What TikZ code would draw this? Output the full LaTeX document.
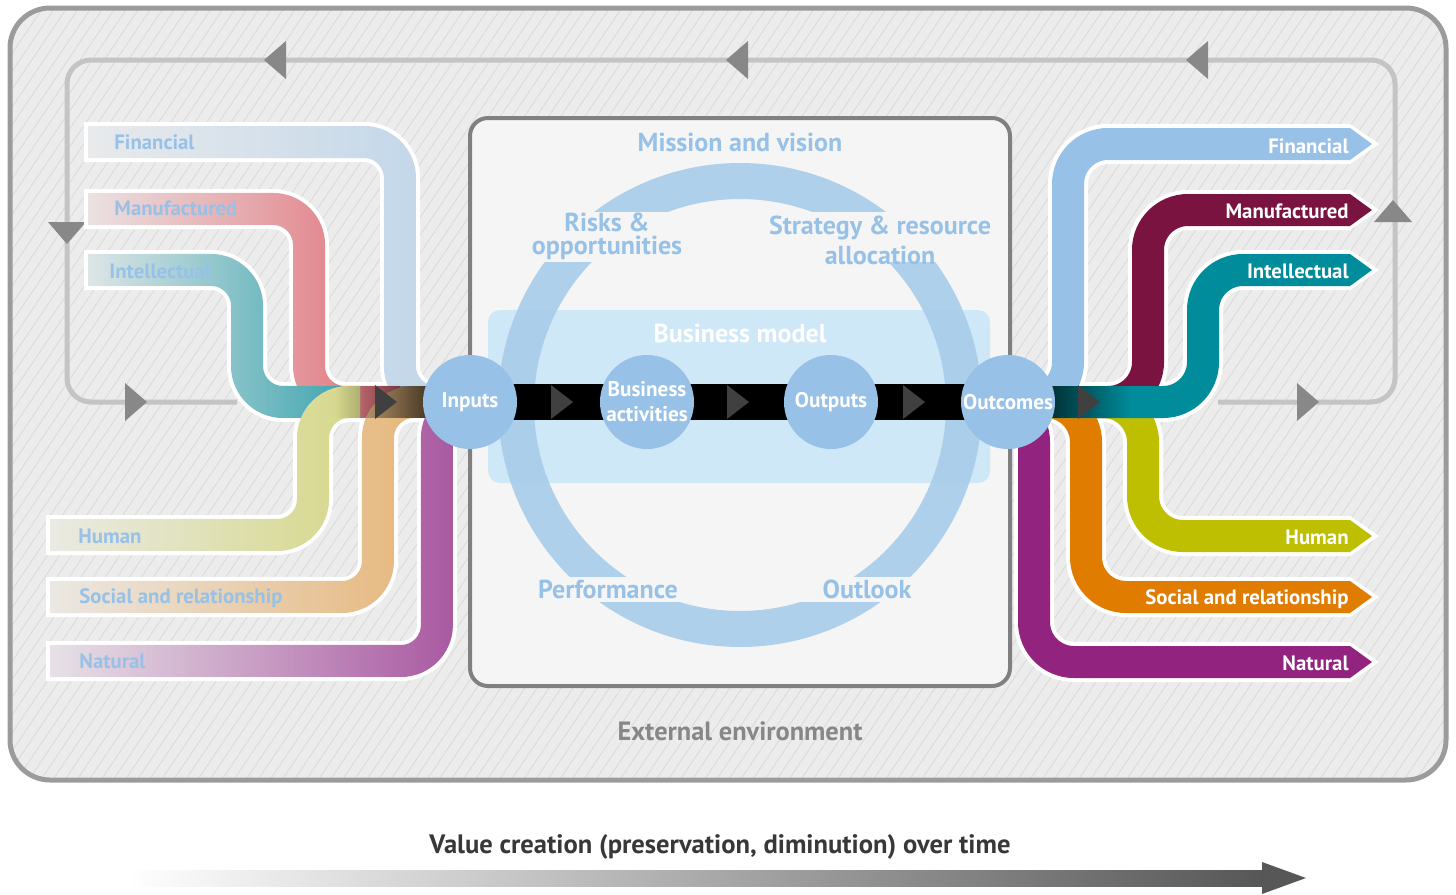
\documentclass[tikz,border=0pt]{standalone}
\usepackage{fontspec}
\setmainfont{PT Sans}
\usetikzlibrary{positioning}
\usetikzlibrary{fadings}
\usetikzlibrary{patterns.meta}

\definecolor{envfill}{HTML}{ECECEC}
\definecolor{envhatch}{HTML}{DADADA}
\definecolor{envline}{HTML}{9B9B9B}
\definecolor{loopline}{HTML}{C4C4C4}
\definecolor{loopgray}{HTML}{888888}
\definecolor{boxline}{HTML}{808080}
\definecolor{boxfill}{HTML}{F5F5F5}
\definecolor{ringblue}{HTML}{A8CCEA}
\definecolor{modelblue}{HTML}{CFE8F8}
\definecolor{stageblue}{HTML}{97C1E7}
\definecolor{flowdark}{HTML}{404040}
% capitals going in
\definecolor{finin}{HTML}{BCD4EA}
\definecolor{manin}{HTML}{E06870}
\definecolor{intin}{HTML}{3AA3AE}
\definecolor{humin}{HTML}{CFD26A}
\definecolor{socin}{HTML}{E6AE68}
\definecolor{natin}{HTML}{A44E9C}
% capitals coming out
\definecolor{finout}{HTML}{97C1E7}
\definecolor{manout}{HTML}{7B1340}
\definecolor{intout}{HTML}{008C9A}
\definecolor{humout}{HTML}{BDBF00}
\definecolor{socout}{HTML}{E07C00}
\definecolor{natout}{HTML}{92237F}

\tikzfading[name=fade in, left color=transparent!100, right color=transparent!0]
\tikzfading[name=fade out, left color=transparent!0, right color=transparent!100]
\tikzfading[name=ribbon fade, left color=transparent!97, right color=transparent!0, middle color=transparent!50]

\tikzset{
  stage/.style={circle, fill=stageblue, minimum size=47pt, inner sep=0pt,
    text=white, align=center, font=\bfseries\fontsize{10.6}{12.5}\selectfont},
  ringlabel/.style={text=stageblue, align=center, font=\bfseries\fontsize{13}{11.5}\selectfont},
  inlabel/.style={text=stageblue, anchor=west, inner sep=0pt, font=\bfseries\fontsize{10.4}{10}\selectfont},
  outlabel/.style={text=white, anchor=east, inner sep=0pt, font=\bfseries\fontsize{10.4}{10}\selectfont},
  inframe/.style={white, line width=20pt, rounded corners=18pt},
  inbase/.style={envfill, line width=16pt, rounded corners=18pt},
  inflow/.style={#1, line width=16pt, rounded corners=18pt, path fading=ribbon fade},
  outframe/.style={white, line width=20pt, rounded corners=20pt},
  outflow/.style={#1, line width=16pt, rounded corners=20pt},
  looptip/.pic={\fill[loopgray] (-11,-19) -- (11,0) -- (-11,19) -- cycle;},
  flowtip/.pic={\fill[flowdark] (-11,-17) -- (11,0) -- (-11,17) -- cycle;},
  chevron/.pic={\fill[white] (0,-20) -- (29,0) -- (0,20) -- cycle;
    \fill[#1] (-1,-16) -- (0,-16) -- (22,0) -- (0,16) -- (-1,16) -- cycle;},
}

\begin{document}
\begin{tikzpicture}[x=0.5pt, y=-0.5pt]
  \useasboundingbox (0,0) rectangle (1456,894);

  % external environment
  \fill[envfill, rounded corners=20pt] (10,8) rectangle (1446,780);
  \fill[pattern={Lines[angle=56,distance=5pt,line width=0.4pt]}, pattern color=envhatch, rounded corners=20pt] (10,8) rectangle (1446,780);
  \draw[envline, line width=2.5pt, rounded corners=20pt] (10,8) rectangle (1446,780);
  \node[font=\bfseries\fontsize{13.2}{13}\selectfont, text=black!47] (env) at (740,731) {External environment};

  % feedback loop
  \draw[loopline, line width=2.5pt, rounded corners=12pt] (1218,402) -- (1395,402) -- (1395,60) -- (67,60) -- (67,402) -- (237,402);
  \pic[rotate=180] at (275,60) {looptip};
  \pic[rotate=180] at (737,60) {looptip};
  \pic[rotate=180] at (1197,60) {looptip};
  \pic[rotate=-90] at (67,233) {looptip};
  \pic at (136,402) {looptip};
  \pic at (1308,402) {looptip};
  \pic[rotate=90] at (1393,211) {looptip};

  % organisation
  \draw[boxline, fill=boxfill, line width=2pt, rounded corners=9pt] (470,118) rectangle (1010,686);
  \fill[modelblue, rounded corners=6pt] (488,310) rectangle (990,483);
  \draw[ringblue, line width=18pt, opacity=.9] (740,405) circle (112pt);
  \fill[boxfill] (492,212) rectangle (988,262);
  \fill[boxfill] (492,577) rectangle (988,602);
  \node[ringlabel] (mission) at (740,142) {Mission and vision};
  \node[ringlabel] (risks) at (607,236) {Risks \&\\opportunities};
  \node[ringlabel] (strategy) at (880,240) {Strategy \& resource\\[2pt]allocation};
  \node[ringlabel] (performance) at (608,589) {Performance};
  \node[ringlabel] (outlook) at (867,589) {Outlook};
  \node[ringlabel, text=white] (model) at (740,333) {Business model};

  % capitals going in
  \draw[inframe] (84,142) -- (400,142) -- (400,402) -- (470,402);
  \draw[inframe] (84,209) -- (309,209) -- (309,402) -- (400,402);
  \draw[inframe] (84,270) -- (247,270) -- (247,402) -- (340,402);
  \draw[inframe] (46,661) -- (437,661) -- (437,402) -- (470,402);
  \draw[inframe] (46,597) -- (378,597) -- (378,402) -- (470,402);
  \draw[inframe] (46,535) -- (313,535) -- (313,402) -- (360,402);
  \draw[inbase] (88,142) -- (400,142) -- (400,402) -- (470,402);
  \draw[inflow=finin] (88,142) -- (400,142) -- (400,402) -- (470,402);
  \draw[inbase] (88,209) -- (309,209) -- (309,402) -- (400,402);
  \draw[inflow=manin] (88,209) -- (309,209) -- (309,402) -- (400,402);
  \draw[inbase] (50,661) -- (437,661) -- (437,402) -- (470,402);
  \draw[inflow=natin] (50,661) -- (437,661) -- (437,402) -- (470,402);
  \draw[inbase] (50,597) -- (378,597) -- (378,402) -- (470,402);
  \draw[inflow=socin] (50,597) -- (378,597) -- (378,402) -- (470,402);
  \draw[inbase] (88,270) -- (247,270) -- (247,402) -- (340,402);
  \draw[inflow=intin] (88,270) -- (247,270) -- (247,402) -- (340,402);
  \draw[inbase] (50,535) -- (313,535) -- (313,402) -- (360,402);
  \draw[inflow=humin, opacity=.8] (50,535) -- (313,535) -- (313,402) -- (360,402);
  \fill[black, path fading=fade in] (335,386) rectangle (470,418);
  \pic at (386,402) {flowtip};
  \node[inlabel] (in fin) at (114,142) {Financial};
  \node[inlabel] (in man) at (114,208) {Manufactured};
  \node[inlabel] (in int) at (109,271) {Intellectual};
  \node[inlabel] (in hum) at (78,536) {Human};
  \node[inlabel] (in soc) at (79,598) {Social and relationship};
  \node[inlabel] (in nat) at (79,661) {Natural};

  % value chain
  \fill[black] (470,384) rectangle (1008,420);
  \pic at (562,402) {flowtip};
  \pic at (738,402) {flowtip};
  \pic at (914,402) {flowtip};

  % capitals coming out
  \draw[outframe] (1008,402) -- (1068,402) -- (1068,144) -- (1350,144);
  \draw[outframe] (1008,402) -- (1148,402) -- (1148,210) -- (1350,210);
  \draw[outframe] (990,402) -- (1034,402) -- (1034,662) -- (1350,662);
  \draw[outframe] (1008,402) -- (1086,402) -- (1086,597) -- (1350,597);
  \draw[outframe] (1008,402) -- (1143,402) -- (1143,536) -- (1350,536);
  \draw[outframe] (1008,402) -- (1203,402) -- (1203,270) -- (1350,270);
  \draw[outflow=finout] (1008,402) -- (1068,402) -- (1068,144) -- (1350,144);
  \draw[outflow=manout] (1008,402) -- (1148,402) -- (1148,210) -- (1350,210);
  \draw[outflow=natout] (990,402) -- (1034,402) -- (1034,662) -- (1350,662);
  \draw[outflow=socout] (1008,402) -- (1086,402) -- (1086,597) -- (1350,597);
  \draw[outflow=humout] (1008,402) -- (1143,402) -- (1143,536) -- (1350,536);
  \draw[outflow=intout] (1008,402) -- (1203,402) -- (1203,270) -- (1350,270);
  \pic at (1350,144) {chevron=finout};
  \pic at (1350,210) {chevron=manout};
  \pic at (1350,270) {chevron=intout};
  \pic at (1350,536) {chevron=humout};
  \pic at (1350,597) {chevron=socout};
  \pic at (1350,662) {chevron=natout};
  \fill[black, path fading=fade out] (1008,386) rectangle (1130,418);
  \pic at (1089,402) {flowtip};
  \node[outlabel] (out fin) at (1349,146) {Financial};
  \node[outlabel] (out man) at (1349,211) {Manufactured};
  \node[outlabel] (out int) at (1349,271) {Intellectual};
  \node[outlabel] (out hum) at (1349,537) {Human};
  \node[outlabel] (out soc) at (1349,599) {Social and relationship};
  \node[outlabel] (out nat) at (1349,663) {Natural};

  % stages
  \node[stage] (inputs) at (470,402) {Inputs};
  \node[stage] (activities) at (647,402) {Business\\activities};
  \node[stage] (outputs) at (831,402) {Outputs};
  \node[stage] (outcomes) at (1008,402) {Outcomes};

  % value over time
  \node[font=\bfseries\fontsize{13.3}{13}\selectfont, text=black!78] (value) at (720,847) {Value creation (preservation, diminution) over time};
  \coordinate (time start) at (128,878);
  \coordinate (time end) at (1306,878);
  \shade[left color=white, right color=black!66] (time start) ++(0,-8) rectangle (1264,886);
  \fill[black!66] (1262,862) -- (time end) -- (1262,894) -- cycle;
\end{tikzpicture}
\end{document}
